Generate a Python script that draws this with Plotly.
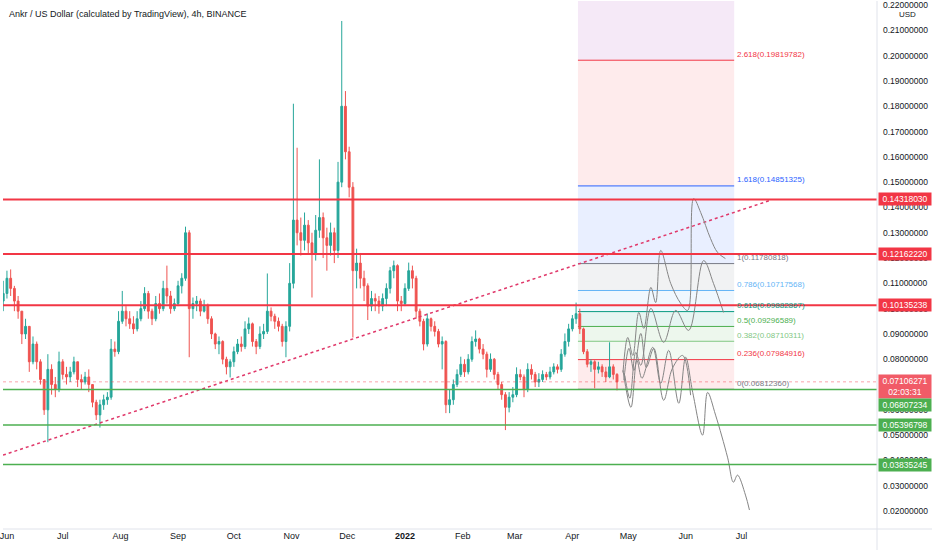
import pandas as pd
import plotly.graph_objects as go

# ── Candles (2-day bars) ───────────────────────────────────────────────────────
FIRST_OPEN = 0.1030
CLOSE = [
    0.1060, 0.1120, 0.1080, 0.1030, 0.0990, 0.0900, 0.0930, 0.0790, 0.0860, 0.0790,
    0.0720, 0.0600, 0.0760, 0.0700, 0.0680, 0.0790, 0.0740, 0.0730, 0.0750, 0.0790,
    0.0720, 0.0710, 0.0730, 0.0700, 0.0630, 0.0580, 0.0620, 0.0640, 0.0650, 0.0840,
    0.0830, 0.0950, 0.0990, 0.0960, 0.0940, 0.0920, 0.0960, 0.1000, 0.1060, 0.0990,
    0.0960, 0.1020, 0.1000, 0.1080, 0.1050, 0.1000, 0.1020, 0.1090, 0.1120, 0.1300,
    0.1000, 0.1020, 0.1030, 0.0990, 0.1010, 0.0960, 0.0900, 0.0860, 0.0870, 0.0800,
    0.0770, 0.0790, 0.0830, 0.0860, 0.0850, 0.0920, 0.0940, 0.0870, 0.0850, 0.0900,
    0.0910, 0.0990, 0.0970, 0.0950, 0.0930, 0.0870, 0.0930, 0.1100, 0.1350, 0.1300,
    0.1270, 0.1330, 0.1260, 0.1220, 0.1310, 0.1360, 0.1280, 0.1250, 0.1300, 0.1230,
    0.1500, 0.1800, 0.1620, 0.1480, 0.1150, 0.1180, 0.1120, 0.1090, 0.1010, 0.1040,
    0.1030, 0.1010, 0.1040, 0.1080, 0.1150, 0.1170, 0.1030, 0.1020, 0.1080, 0.1150,
    0.1120, 0.0990, 0.0950, 0.0860, 0.0960, 0.0930, 0.0910, 0.0860, 0.0870, 0.0620,
    0.0640, 0.0700, 0.0740, 0.0780, 0.0750, 0.0800, 0.0870, 0.0880, 0.0840, 0.0820,
    0.0760, 0.0800, 0.0740, 0.0700, 0.0660, 0.0610, 0.0650, 0.0660, 0.0740, 0.0730,
    0.0680, 0.0760, 0.0740, 0.0710, 0.0720, 0.0740, 0.0730, 0.0750, 0.0770, 0.0760,
    0.0820, 0.0870, 0.0920, 0.0960, 0.0980, 0.0920, 0.0830, 0.0780, 0.0790, 0.0760,
    0.0770, 0.0750, 0.0730, 0.0770, 0.0740, 0.0711,
]
HIGH = [
    0.1110, 0.1150, 0.1155, 0.1090, 0.1050, 0.0990, 0.0960, 0.0930, 0.0890, 0.0870,
    0.0800, 0.0720, 0.0820, 0.0780, 0.0730, 0.0830, 0.0800, 0.0770, 0.0770, 0.0810,
    0.0790, 0.0740, 0.0750, 0.0760, 0.0700, 0.0640, 0.0640, 0.0660, 0.0670, 0.0880,
    0.0870, 0.0990, 0.1070, 0.1010, 0.0990, 0.0970, 0.0990, 0.1030, 0.1085, 0.1070,
    0.1000, 0.1050, 0.1060, 0.1110, 0.1170, 0.1070, 0.1040, 0.1110, 0.1140, 0.1324,
    0.1310, 0.1044, 0.1050, 0.1040, 0.1035, 0.1020, 0.0970, 0.0905, 0.0890, 0.0875,
    0.0810, 0.0800, 0.0850, 0.0880, 0.0890, 0.0950, 0.0965, 0.0945, 0.0880, 0.0930,
    0.0940, 0.1139, 0.1005, 0.0980, 0.0965, 0.0940, 0.0950, 0.1180, 0.1810, 0.1636,
    0.1360, 0.1380, 0.1350, 0.1300, 0.1370, 0.1590, 0.1380, 0.1320, 0.1340, 0.1320,
    0.1580, 0.2137, 0.1860, 0.1640, 0.1500, 0.1237, 0.1220, 0.1150, 0.1100, 0.1070,
    0.1060, 0.1050, 0.1060, 0.1100, 0.1165, 0.1190, 0.1175, 0.1050, 0.1100, 0.1182,
    0.1170, 0.1130, 0.1000, 0.0960, 0.0981, 0.0965, 0.0950, 0.0920, 0.0890, 0.0875,
    0.0680, 0.0720, 0.0760, 0.0810, 0.0800, 0.0820, 0.0890, 0.0914, 0.0885, 0.0860,
    0.0830, 0.0823, 0.0805, 0.0750, 0.0710, 0.0670, 0.0670, 0.0690, 0.0768, 0.0760,
    0.0740, 0.0784, 0.0780, 0.0750, 0.0745, 0.0756, 0.0750, 0.0770, 0.0784, 0.0780,
    0.0840, 0.0902, 0.0940, 0.0975, 0.1024, 0.1000, 0.0925, 0.0840, 0.0800, 0.0796,
    0.0790, 0.0780, 0.0770, 0.0867, 0.0780, 0.0745,
]
LOW = [
    0.0990, 0.1040, 0.1050, 0.0990, 0.0960, 0.0860, 0.0880, 0.0750, 0.0780, 0.0760,
    0.0700, 0.0580, 0.0472, 0.0660, 0.0650, 0.0670, 0.0720, 0.0700, 0.0710, 0.0740,
    0.0690, 0.0680, 0.0700, 0.0670, 0.0610, 0.0560, 0.0530, 0.0600, 0.0620, 0.0640,
    0.0810, 0.0820, 0.0940, 0.0930, 0.0920, 0.0900, 0.0910, 0.0950, 0.0990, 0.0960,
    0.0935, 0.0950, 0.0980, 0.0990, 0.1020, 0.0980, 0.0990, 0.1010, 0.1060, 0.1110,
    0.0808, 0.0960, 0.0990, 0.0970, 0.0985, 0.0940, 0.0880, 0.0840, 0.0820, 0.0780,
    0.0740, 0.0728, 0.0770, 0.0820, 0.0830, 0.0840, 0.0900, 0.0850, 0.0820, 0.0840,
    0.0880, 0.0900, 0.0950, 0.0920, 0.0910, 0.0850, 0.0808, 0.0910, 0.1080, 0.1250,
    0.1210, 0.1230, 0.1220, 0.1044, 0.1190, 0.1280, 0.1200, 0.1150, 0.1210, 0.1180,
    0.1200, 0.1480, 0.1590, 0.1440, 0.0886, 0.1080, 0.1080, 0.1030, 0.0955, 0.0990,
    0.0990, 0.0980, 0.0990, 0.1010, 0.1060, 0.1120, 0.0990, 0.0990, 0.1010, 0.1070,
    0.1080, 0.0960, 0.0930, 0.0835, 0.0850, 0.0910, 0.0890, 0.0847, 0.0760, 0.0587,
    0.0587, 0.0620, 0.0690, 0.0730, 0.0730, 0.0740, 0.0790, 0.0850, 0.0823, 0.0800,
    0.0728, 0.0750, 0.0720, 0.0680, 0.0640, 0.0520, 0.0590, 0.0630, 0.0650, 0.0717,
    0.0650, 0.0670, 0.0720, 0.0690, 0.0690, 0.0710, 0.0717, 0.0720, 0.0740, 0.0744,
    0.0750, 0.0810, 0.0850, 0.0910, 0.0940, 0.0900, 0.0820, 0.0768, 0.0750, 0.0685,
    0.0744, 0.0730, 0.0710, 0.0725, 0.0720, 0.0677,
]

LAST_PRICE = 0.07106271
COUNTDOWN = "02:03:31"

# ── Horizontal levels drawn on the chart ───────────────────────────────────────
RES_LEVELS = [0.14318030, 0.12162220, 0.10135238]
SUP_LEVELS = [0.06807234, 0.05396798, 0.03835245]

# ── Fibonacci extension ────────────────────────────────────────────────────────
FIB_START, FIB_END = "2022-04-04", "2022-06-27"
FIB_RATIOS = ["0", "0.236", "0.382", "0.5", "0.618", "0.786", "1", "1.618", "2.618", "3.618"]
FIB_PRICES = [0.06812360, 0.07984916, 0.08710311, 0.09296589, 0.09882867,
              0.10717568, 0.11780818, 0.14851325, 0.19819782, 0.24788341]
FIB_COLORS = ["#787b86", "#f23645", "#81c784", "#4caf50", "#089981",
              "#64b5f6", "#787b86", "#2962ff", "#f23645", "#9c27b0"]

# ── Dotted trend line ──────────────────────────────────────────────────────────
TREND_DATES = ["2021-05-29 21:00", "2022-07-16 00:00"]
TREND_PRICES = [0.0421, 0.1427]

# ── Hand-drawn projection paths ────────────────────────────────────────────────
PATH1_DATES = ["2022-04-28 05:00", "2022-04-30 19:00", "2022-05-03 12:00", "2022-05-06 17:00",
               "2022-05-09 10:00", "2022-05-13 05:00", "2022-05-15 19:00", "2022-05-18 12:00",
               "2022-05-23 22:00", "2022-05-29 05:00", "2022-06-02 00:00", "2022-06-05 05:00",
               "2022-06-09 00:00", "2022-06-14 07:00", "2022-06-18 02:00", "2022-06-22 07:00"]
PATH1_PRICES = [0.0748, 0.0886, 0.0815, 0.0985, 0.0922, 0.1084, 0.1024, 0.1230,
                0.1099, 0.1021, 0.0993, 0.1435, 0.1380, 0.1277, 0.1222, 0.1198]

PATH2_DATES = ["2022-04-29 05:00", "2022-05-01 22:00", "2022-05-05 02:00", "2022-05-07 19:00",
               "2022-05-13 05:00", "2022-05-20 02:00", "2022-05-26 14:00", "2022-06-02 12:00",
               "2022-06-10 14:00", "2022-06-15 22:00", "2022-06-21 07:00"]
PATH2_PRICES = [0.0736, 0.0646, 0.0827, 0.0776, 0.1001, 0.0867, 0.0993, 0.0914,
                0.1190, 0.1099, 0.0985]

PATH3_DATES = ["2022-04-28 17:00", "2022-05-01 10:00", "2022-05-04 02:00", "2022-05-07 19:00",
               "2022-05-10 19:00", "2022-05-14 19:00", "2022-05-20 02:00", "2022-05-24 19:00",
               "2022-05-30 07:00", "2022-06-03 14:00"]
PATH3_PRICES = [0.0717, 0.0843, 0.0756, 0.0902, 0.0768, 0.0843, 0.0638, 0.0764,
                0.0815, 0.0658]

PATH4_DATES = ["2022-04-28 05:00", "2022-05-02 12:00", "2022-05-05 17:00", "2022-05-08 10:00",
               "2022-05-14 05:00", "2022-05-18 12:00", "2022-05-22 19:00", "2022-05-28 05:00",
               "2022-05-31 22:00", "2022-06-04 17:00", "2022-06-10 00:00", "2022-06-12 17:00",
               "2022-06-17 00:00", "2022-06-23 10:00", "2022-06-26 14:00", "2022-06-28 19:00",
               "2022-07-03 02:00", "2022-07-05 05:00"]
PATH4_PRICES = [0.0756, 0.0610, 0.0796, 0.0725, 0.0847, 0.0705, 0.0835, 0.0626,
                0.0808, 0.0669, 0.0500, 0.0669, 0.0579, 0.0413, 0.0314, 0.0342,
                0.0263, 0.0204]

# ── Axes ───────────────────────────────────────────────────────────────────────
MONTH_TICKS = ["2021-06-01", "2021-07-01", "2021-08-01", "2021-09-01", "2021-10-01",
               "2021-11-01", "2021-12-01", "2022-01-01", "2022-02-01", "2022-03-01",
               "2022-04-01", "2022-05-01", "2022-06-01", "2022-07-01"]
MONTH_LABELS = ["Jun", "Jul", "Aug", "Sep", "Oct", "Nov", "Dec", "<b>2022</b>",
                "Feb", "Mar", "Apr", "May", "Jun", "Jul"]
PRICE_TICKS = [0.02, 0.03, 0.04, 0.05, 0.06, 0.07, 0.08, 0.09, 0.10, 0.11,
               0.12, 0.13, 0.14, 0.15, 0.16, 0.17, 0.18, 0.19, 0.20, 0.21, 0.22]

RED = "#f23645"
GREEN = "#4caf50"
TEXT = "#131722"
BORDER = "#e0e3eb"
FONT = "Liberation Sans, Arial, sans-serif"


def rgba(hex_color, alpha):
    h = hex_color.lstrip("#")
    r, g, b = int(h[0:2], 16), int(h[2:4], 16), int(h[4:6], 16)
    return f"rgba({r},{g},{b},{alpha})"


fig = go.Figure()

# fib bands + level lines
for i in range(len(FIB_PRICES) - 1):
    fig.add_shape(type="rect", xref="x", yref="y", x0=FIB_START, x1=FIB_END,
                  y0=FIB_PRICES[i], y1=FIB_PRICES[i + 1],
                  fillcolor=rgba(FIB_COLORS[i + 1], 0.10), line_width=0, layer="below")
for ratio, price, color in zip(FIB_RATIOS[:-1], FIB_PRICES[:-1], FIB_COLORS[:-1]):
    fig.add_shape(type="line", xref="x", yref="y", x0=FIB_START, x1=FIB_END,
                  y0=price, y1=price, line=dict(color=color, width=1), layer="below")
    fig.add_annotation(x=FIB_END, y=price, xref="x", yref="y", text=f"{ratio}({price:.8f})",
                       showarrow=False, xanchor="left", yanchor="middle", xshift=1, yshift=6,
                       font=dict(family=FONT, size=8, color=color))

# candles
candle_dates = pd.date_range("2021-05-30", periods=len(CLOSE), freq="2D")
opens = [FIRST_OPEN] + CLOSE[:-1]
fig.add_trace(go.Candlestick(
    x=candle_dates, open=opens, high=HIGH, low=LOW, close=CLOSE,
    increasing=dict(line=dict(color="#26a69a", width=1), fillcolor="#26a69a"),
    decreasing=dict(line=dict(color="#ef5350", width=1), fillcolor="#ef5350"),
    whiskerwidth=0, showlegend=False,
))

# trend line
fig.add_trace(go.Scatter(x=TREND_DATES, y=TREND_PRICES, mode="lines",
                         line=dict(color="#e0386a", width=1.5, dash="dot"),
                         showlegend=False, hoverinfo="skip"))

# brush paths
for dates, prices in [(PATH1_DATES, PATH1_PRICES), (PATH2_DATES, PATH2_PRICES),
                      (PATH3_DATES, PATH3_PRICES), (PATH4_DATES, PATH4_PRICES)]:
    fig.add_trace(go.Scatter(x=dates, y=prices, mode="lines",
                             line=dict(color="#858585", width=1, shape="spline", smoothing=1.0),
                             showlegend=False, hoverinfo="skip"))

# horizontal levels
fig.add_shape(type="line", xref="paper", x0=0, x1=1, yref="y", y0=LAST_PRICE, y1=LAST_PRICE,
              line=dict(color=rgba(RED, 0.45), width=1, dash="dot"))
for p in RES_LEVELS:
    fig.add_shape(type="line", xref="paper", x0=0, x1=1, yref="y", y0=p, y1=p,
                  line=dict(color=RED, width=2))
for p in SUP_LEVELS:
    fig.add_shape(type="line", xref="paper", x0=0, x1=1, yref="y", y0=p, y1=p,
                  line=dict(color=GREEN, width=1.5))

# frame lines of the price scale / time scale
fig.add_shape(type="line", xref="paper", yref="paper", x0=1, x1=1, y0=-0.05, y1=1,
              line=dict(color=BORDER, width=1))
fig.add_shape(type="line", xref="paper", yref="paper", x0=0, x1=1.07, y0=0, y1=0,
              line=dict(color=BORDER, width=1))


# price scale labels
def axis_label(price, text, color, yshift=0):
    fig.add_annotation(x=1, xref="paper", y=price, yref="y", text=text, showarrow=False,
                       xanchor="left", yanchor="middle", yshift=yshift, xshift=1, width=50,
                       bgcolor=color, borderpad=1,
                       font=dict(family=FONT, size=8.5, color="white"))


for p in RES_LEVELS:
    axis_label(p, f"{p:.8f}", RED)
axis_label(LAST_PRICE, f"{LAST_PRICE:.8f}<br>{COUNTDOWN}", "#f15b67", yshift=-5)
axis_label(SUP_LEVELS[0], f"{SUP_LEVELS[0]:.8f}", GREEN, yshift=-16)
for p in SUP_LEVELS[1:]:
    axis_label(p, f"{p:.8f}", GREEN)

fig.add_annotation(x=1, xref="paper", y=1, yref="paper", text="USD", showarrow=False,
                   xanchor="left", yanchor="top", xshift=20, yshift=-7,
                   bgcolor="white", font=dict(family=FONT, size=8, color=TEXT))

# title
fig.add_annotation(x=0, xref="paper", y=1, yref="paper", xshift=4, yshift=-6,
                   text="Ankr / US Dollar (calculated by TradingView), 4h, BINANCE",
                   showarrow=False, xanchor="left", yanchor="top",
                   font=dict(family=FONT, size=9, color=TEXT))

fig.update_layout(
    width=932, height=550,
    margin=dict(l=0, r=55, t=0, b=21),
    paper_bgcolor="white", plot_bgcolor="white",
    font=dict(family=FONT, size=9, color=TEXT),
    showlegend=False,
    xaxis=dict(type="date", range=["2021-05-29 21:00", "2022-09-11 19:00"],
               tickvals=MONTH_TICKS, ticktext=MONTH_LABELS, showgrid=False,
               zeroline=False, showline=False, ticks="", rangeslider=dict(visible=False),
               ticklabeloverflow="allow",
               tickfont=dict(family=FONT, size=9, color=TEXT)),
    yaxis=dict(side="right", range=[0.0129, 0.2216], tickvals=PRICE_TICKS,
               tickformat=".8f", showgrid=False, zeroline=False, showline=False,
               ticks="", ticklabelstandoff=5, ticklabeloverflow="allow",
               tickfont=dict(family=FONT, size=8.5, color=TEXT)),
)

# the page body has a default 8px margin; drop it so the chart sits at the corner
fig.write_html("out.html", config={"displayModeBar": False},
               post_script="document.body.style.margin='0';")
